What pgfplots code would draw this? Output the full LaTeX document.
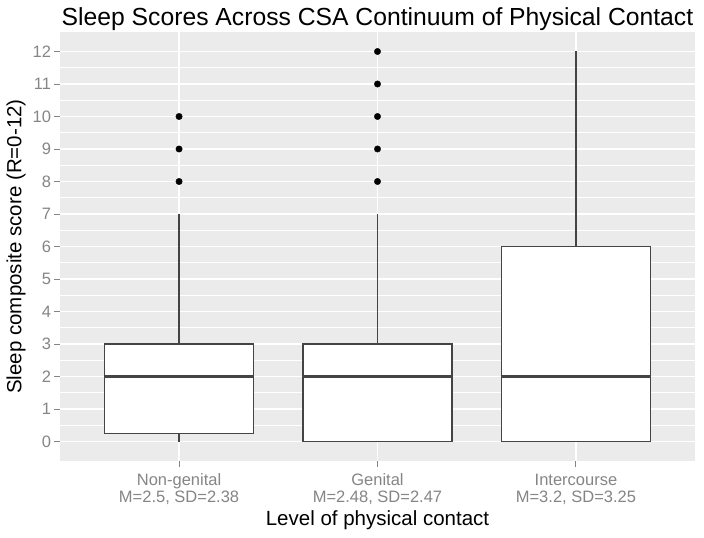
\documentclass[border=0pt]{standalone}
\usepackage{pgfplots}
\pgfplotsset{compat=1.18}
\usepgfplotslibrary{statistics}
\usepackage{fontspec}
\setmainfont{Liberation Sans}
\definecolor{panel}{HTML}{EBEBEB}
\definecolor{tickgrey}{HTML}{858585}
\definecolor{boxline}{HTML}{444444}
\begin{document}
\begin{tikzpicture}
\begin{axis}[
  scale only axis, width=635pt, height=429pt,
  xmin=0.4, xmax=3.6, ymin=-0.6, ymax=12.6,
  axis background/.style={fill=panel},
  axis line style={draw=none},
  xtick={1,2,3},
  xticklabels={{Non-genital\\M=2.5, SD=2.38},{Genital\\M=2.48, SD=2.47},{Intercourse\\M=3.2, SD=3.25}},
  xticklabel style={align=center, font=\fontsize{16.5}{17}\selectfont, text=tickgrey, yshift=-4pt},
  ytick={0,1,...,12},
  minor y tick num=1,
  yticklabel style={font=\fontsize{16.5}{18}\selectfont, text=tickgrey},
  /pgf/number format/assume math mode=true,
  tick pos=left, tick align=outside,
  major tick length=5.5pt, minor tick length=0pt,
  tick style={tickgrey, line width=0.9pt},
  grid=both,
  major grid style={white, line width=1.5pt},
  minor grid style={white, line width=0.7pt},
  title={Sleep Scores Across CSA Continuum of Physical Contact},
  title style={font=\fontsize{24.7}{28}\selectfont, at={(axis description cs:0.5,1)}, anchor=base, yshift=0pt},
  xlabel={Level of physical contact},
  ylabel={Sleep composite score (R=0-12)},
  label style={font=\fontsize{20.5}{24}\selectfont},
  xlabel style={at={(axis description cs:0.5,0)}, anchor=base, yshift=-64pt},
  ylabel style={at={(axis description cs:-0.0693,0.5)}, anchor=center},
  boxplot/draw direction=y,
  boxplot/box extend=0.75,
  boxplot/whisker extend=0,
  boxplot/every box/.style={draw=boxline, fill=white, line width=1.4pt},
  boxplot/every whisker/.style={draw=boxline, line width=1.4pt},
  boxplot/every median/.style={draw=boxline, line width=3pt},
]
\addplot[boxplot prepared={draw position=1, lower whisker=0, lower quartile=0.25,
  median=2, upper quartile=3, upper whisker=7},
  draw=boxline, line width=1.4pt,
  mark=*, mark size=3.2pt, mark options={draw=black, fill=black, line width=0.4pt}]
  table[row sep=\\, y index=0] {8\\ 9\\ 10\\};
\addplot[boxplot prepared={draw position=2, lower whisker=0, lower quartile=0,
  median=2, upper quartile=3, upper whisker=7},
  draw=boxline, line width=1.4pt,
  mark=*, mark size=3.2pt, mark options={draw=black, fill=black, line width=0.4pt}]
  table[row sep=\\, y index=0] {8\\ 9\\ 10\\ 11\\ 12\\};
\addplot[boxplot prepared={draw position=3, lower whisker=0, lower quartile=0,
  median=2, upper quartile=6, upper whisker=12},
  draw=boxline, line width=1.4pt]
  coordinates {};
\end{axis}
\pgfresetboundingbox
\path (current axis.south west) ++(-60pt,-77pt) (current axis.north east) ++(9pt,32pt);
\end{tikzpicture}
\end{document}
